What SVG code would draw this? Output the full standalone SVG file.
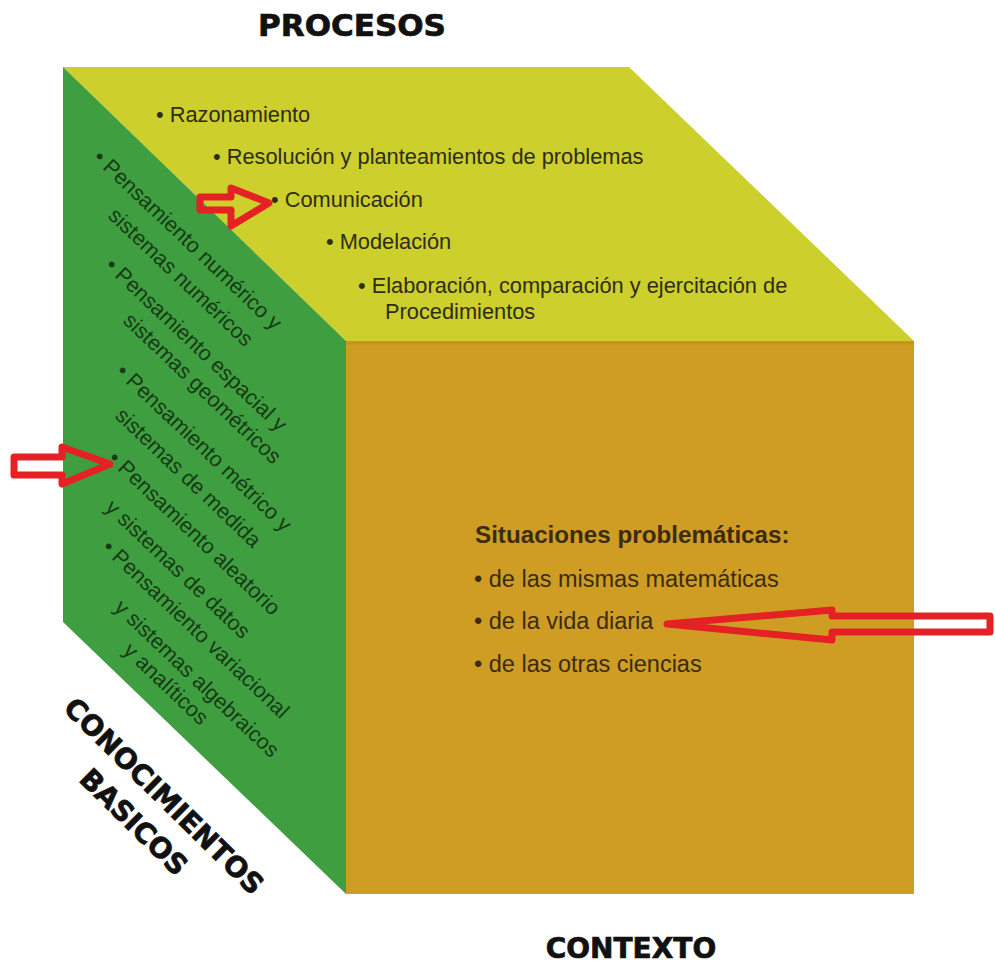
<svg xmlns="http://www.w3.org/2000/svg" width="995" height="966" viewBox="0 0 995 966">
<style>
.title{font-family:"DejaVu Sans","Liberation Sans",sans-serif;font-weight:bold;fill:#111;stroke:#111;stroke-width:0.7}
.top{font-family:"Liberation Sans",Arial,sans-serif;font-size:21.8px;fill:#2e2d14}
.front{font-family:"Liberation Sans",Arial,sans-serif;font-size:23.5px;fill:#3a2c0c}
.frontb{font-family:"Liberation Sans",Arial,sans-serif;font-size:24.2px;font-weight:bold;fill:#3a2c0c}
.side{font-family:"Liberation Sans",Arial,sans-serif;font-size:21.5px;fill:#173a17}
.arrow{fill:none;stroke:#E42226;stroke-width:7;stroke-linejoin:round}
</style>
<rect width="995" height="966" fill="#ffffff"/>
<g id="cube">
  <polygon id="face-top" points="63,67 629,67 914,341 346,341" fill="#CDCF2D"/>
  <polygon id="face-left" points="63,67 346,341 346,894 63,622" fill="#3F9E3F"/>
  <rect id="face-front" x="346" y="341" width="568" height="553" fill="#D09D24"/>
  <line x1="346" y1="343" x2="914" y2="343" stroke="#C8921E" stroke-width="3"/>
</g>
<g id="procesos-label"><text class="title" x="352" y="36" font-size="31" text-anchor="middle">PROCESOS</text></g>
<g id="contexto-label"><text class="title" x="631" y="958" font-size="28" text-anchor="middle">CONTEXTO</text></g>
<g id="conocimientos-label">
  <text class="title" font-size="28" text-anchor="middle" transform="translate(157,803) rotate(44.5)">CONOCIMIENTOS</text>
  <text class="title" font-size="28" text-anchor="middle" transform="translate(127,829) rotate(44.5)">BASICOS</text>
</g>
<g id="procesos-items">
  <text class="top" x="156" y="122">• Razonamiento</text>
  <text class="top" x="213" y="164">• Resolución y planteamientos de problemas</text>
  <text class="top" x="271" y="207">• Comunicación</text>
  <text class="top" x="326" y="249">• Modelación</text>
  <text class="top" x="358" y="293">• Elaboración, comparación y ejercitación de</text>
  <text class="top" x="385" y="319">Procedimientos</text>
</g>
<g id="contexto-items">
  <text class="frontb" x="475" y="543">Situaciones problemáticas:</text>
  <text class="front" x="474" y="587">• de las mismas matemáticas</text>
  <text class="front" x="474" y="629">• de la vida diaria</text>
  <text class="front" x="474" y="672">• de las otras ciencias</text>
</g>
<g id="conocimientos-items">
  <text class="side" transform="translate(92,159) rotate(43.5)">• Pensamiento numérico y</text>
  <text class="side" transform="translate(107,217) rotate(43.5)">sistemas numéricos</text>
  <text class="side" transform="translate(104,267) rotate(43.5)">• Pensamiento espacial y</text>
  <text class="side" transform="translate(122,322) rotate(43.5)">sistemas geométricos</text>
  <text class="side" transform="translate(115,373) rotate(43.5)">• Pensamiento métrico y</text>
  <text class="side" transform="translate(114,417) rotate(43.5)">sistemas de medida</text>
  <text class="side" transform="translate(107,460) rotate(43.5)">• Pensamiento aleatorio</text>
  <text class="side" transform="translate(104,509) rotate(43.5)">y sistemas de datos</text>
  <text class="side" transform="translate(101,549) rotate(43.5)">• Pensamiento variacional</text>
  <text class="side" transform="translate(113,609) rotate(43.5)">y sistemas algebraicos</text>
  <text class="side" transform="translate(122,652) rotate(43.5)">y analíticos</text>
</g>
<g id="arrows">
  <path class="arrow" d="M200,197 H231 V188 L269,203 L231,226 V210 H200 Z"/>
  <path class="arrow" d="M14,457 H62 V447 L110,464 L62,484 V475 H14 Z"/>
  <path class="arrow" d="M667,624 L832,610 V616 H990 V632 H832 V640 Z"/>
</g>
</svg>
